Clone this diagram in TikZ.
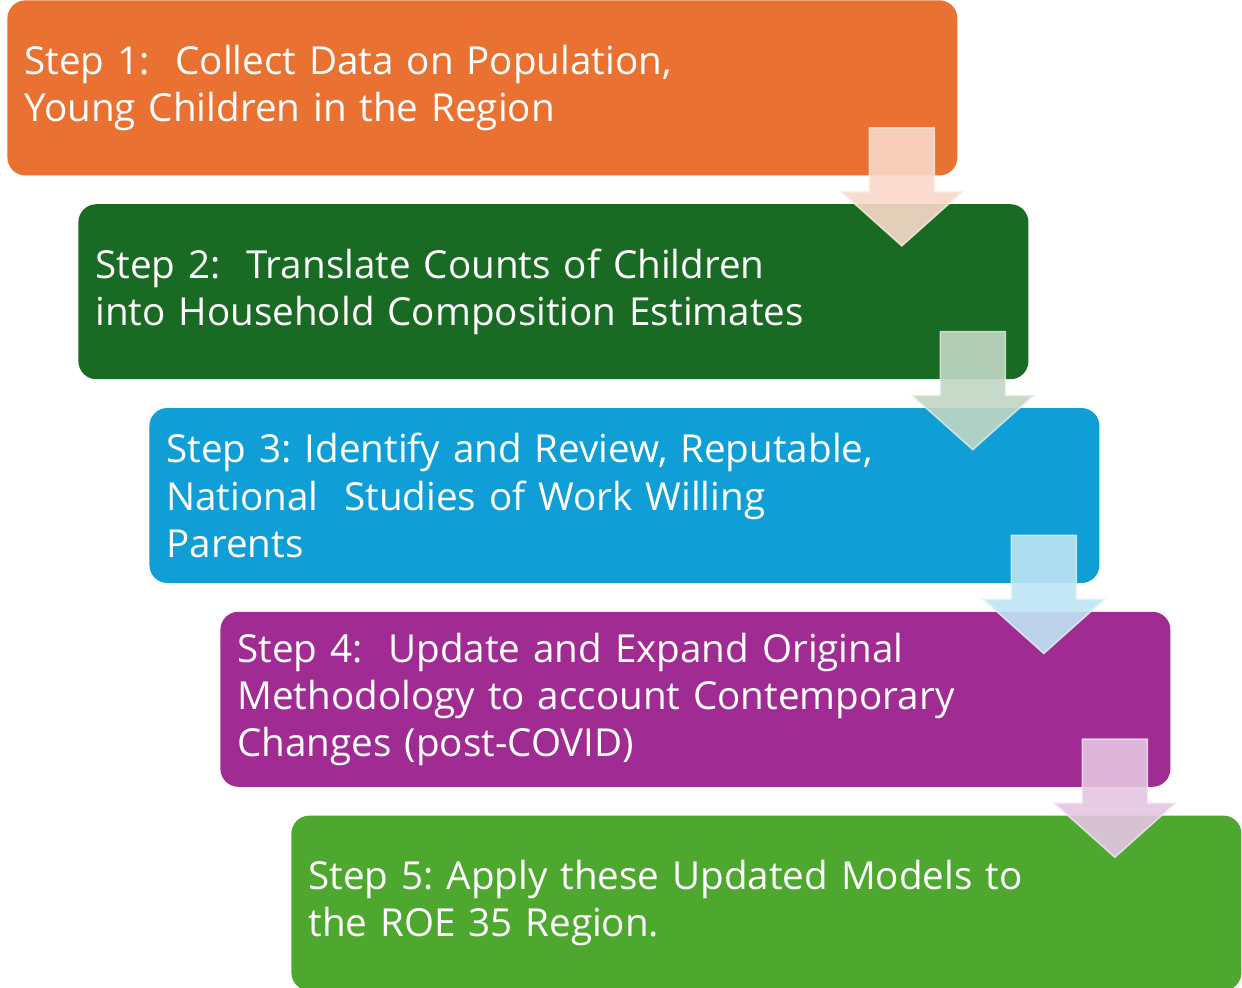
\documentclass[tikz,border=0pt]{standalone}
\usepackage{fontspec}
\setmainfont{Open Sans}
\usetikzlibrary{positioning, calc}
\definecolor{StepOrange}{RGB}{233, 113, 50}
\definecolor{StepForest}{RGB}{25, 107, 36}
\definecolor{StepBlue}{RGB}{15, 158, 213}
\definecolor{StepPurple}{RGB}{160, 43, 147}
\definecolor{StepGreen}{RGB}{78, 167, 46}
\frenchspacing
\tikzset{
  stepbox/.style={rectangle, rounded corners=9pt, draw=none, text=white,
    minimum height=87.5pt, text width=458pt, inner xsep=8.5pt, align=left,
    font=\fontsize{19.3pt}{23.6pt}\selectfont},
  tint/.style={fill=#1!27!white, fill opacity=0.9, draw=#1!12!white,
    draw opacity=0.8, line width=0.8pt, line join=miter},
  downarr/.pic={
    \path[pic actions] (-16.25pt,0) -- (-16.25pt,-32pt) -- (-30.25pt,-32pt)
      -- (0,-59pt) -- (30.25pt,-32pt) -- (16.25pt,-32pt) -- (16.25pt,0) -- cycle;
  },
}
\begin{document}
\begin{tikzpicture}
  \path[use as bounding box, fill=white] (0,0) rectangle (621pt,-493.5pt);

  % the five steps, stepping down to the right
  \node[stepbox, fill=StepOrange, anchor=north west] (s1) at (3.5pt,0)
    {Step 1:\ \ Collect Data on Population,\\Young Children in the Region};
  \node[stepbox, fill=StepForest, below right=14pt and 35.5pt of s1.south west] (s2)
    {Step 2:\ \ Translate Counts of Children\\into Household Composition Estimates};
  \node[stepbox, fill=StepBlue, below right=14pt and 35.5pt of s2.south west] (s3)
    {Step 3: Identify and Review, Reputable,\\National\ \ Studies of Work Willing\\Parents};
  \node[stepbox, fill=StepPurple, below right=14pt and 35.5pt of s3.south west] (s4)
    {Step 4:\ \ Update and Expand Original\\Methodology to account Contemporary\\Changes (post-COVID)};
  \node[stepbox, fill=StepGreen, below right=14pt and 35.5pt of s4.south west] (s5)
    {Step 5: Apply these Updated Models to\\the ROE 35 Region.};

  % arrows from each step into the next one
  \pic[tint=StepOrange] at ($(s1.south east)+(-28pt,24pt)$) {downarr};
  \pic[tint=StepForest] at ($(s2.south east)+(-28pt,24pt)$) {downarr};
  \pic[tint=StepBlue] at ($(s3.south east)+(-28pt,24pt)$) {downarr};
  \pic[tint=StepPurple] at ($(s4.south east)+(-28pt,24pt)$) {downarr};
\end{tikzpicture}
\end{document}
